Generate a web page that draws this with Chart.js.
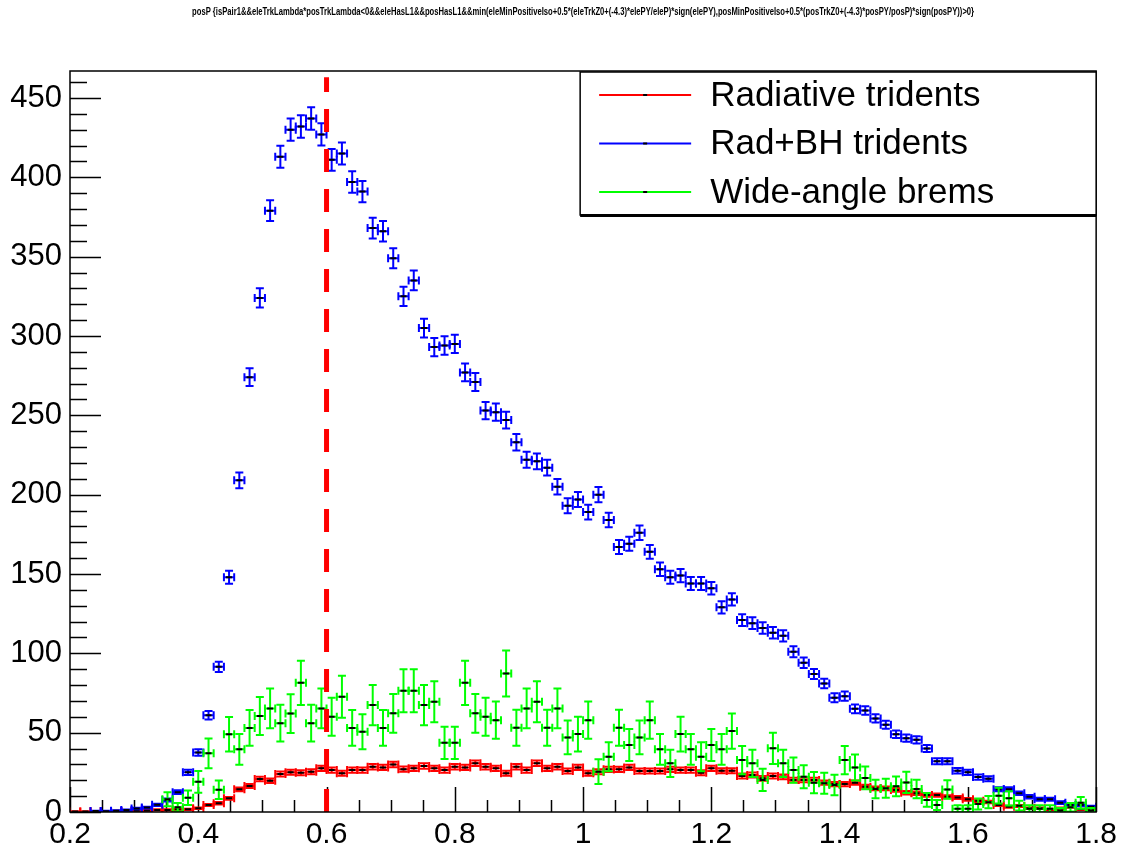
<!DOCTYPE html>
<html>
<head>
<meta charset="utf-8">
<title>posP</title>
<script src="https://cdn.jsdelivr.net/npm/chart.js@4.4.0/dist/chart.umd.min.js"></script>
<style>
  html, body { margin: 0; padding: 0; background: #fff; }
  #wrap { width: 1122px; height: 849px; }
</style>
</head>
<body>
<div id="wrap"><canvas id="posPChart" width="1122" height="849"></canvas></div>
<script>
const titleText = 'posP {isPair1&&eleTrkLambda*posTrkLambda<0&&eleHasL1&&posHasL1&&min(eleMinPositiveIso+0.5*(eleTrkZ0+(-4.3)*elePY/eleP)*sign(elePY),posMinPositiveIso+0.5*(posTrkZ0+(-4.3)*posPY/posP)*sign(posPY))>0}';

// 100 bins of width 0.016 between 0.2 and 1.8, centres
const binCenters = [
  0.208, 0.224, 0.24, 0.256, 0.272, 0.288, 0.304, 0.32, 0.336, 0.352,
  0.368, 0.384, 0.4, 0.416, 0.432, 0.448, 0.464, 0.48, 0.496, 0.512,
  0.528, 0.544, 0.56, 0.576, 0.592, 0.608, 0.624, 0.64, 0.656, 0.672,
  0.688, 0.704, 0.72, 0.736, 0.752, 0.768, 0.784, 0.8, 0.816, 0.832,
  0.848, 0.864, 0.88, 0.896, 0.912, 0.928, 0.944, 0.96, 0.976, 0.992,
  1.008, 1.024, 1.04, 1.056, 1.072, 1.088, 1.104, 1.12, 1.136, 1.152,
  1.168, 1.184, 1.2, 1.216, 1.232, 1.248, 1.264, 1.28, 1.296, 1.312,
  1.328, 1.344, 1.36, 1.376, 1.392, 1.408, 1.424, 1.44, 1.456, 1.472,
  1.488, 1.504, 1.52, 1.536, 1.552, 1.568, 1.584, 1.6, 1.616, 1.632,
  1.648, 1.664, 1.68, 1.696, 1.712, 1.728, 1.744, 1.76, 1.776, 1.792
];
const binHalfWidth = 0.008;

// Radiative tridents (red)
const radValues = [
  0.3, 0.3, 0.4, 0.4, 0.5, 0.6, 0.8, 1.0, 1.3, 1.3,
  1.7, 1.7, 2.3, 4.4, 5.5, 8.6, 14.3, 16.4, 20.8, 19.7,
  23.9, 25, 24.7, 25.4, 27.5, 26.4, 24.4, 26.4, 26.4, 28.5,
  28.1, 30, 27, 27.5, 29, 27.5, 26.4, 28.5, 28.1, 30.7,
  28.5, 27.5, 24.4, 28.5, 26.4, 30.7, 27.5, 28.5, 25.8, 28.1,
  24.4, 25.4, 26.9, 26.9, 28.1, 25.8, 25.8, 25.8, 26.9, 26.4,
  26.4, 24.7, 27.5, 26, 26, 22.7, 23.3, 21.2, 22.7, 22.2,
  20.2, 20.2, 20.2, 18.5, 17.6, 17.6, 18.5, 15.9, 14.9, 14.9,
  13.9, 12.2, 11.8, 10.7, 10.7, 9.6, 9.2, 8, 7.1, 6.3,
  4.4, 3.3, 3.8, 2.3, 2.3, 1.7, 2.3, 3.3, 1.7, 1.7
];
const radErrors = [
  0.17, 0.17, 0.2, 0.2, 0.22, 0.25, 0.28, 0.32, 0.36, 0.36,
  0.41, 0.41, 0.48, 0.66, 0.74, 0.93, 1.2, 1.28, 1.44, 1.4,
  1.55, 1.58, 1.57, 1.59, 1.66, 1.62, 1.56, 1.62, 1.62, 1.69,
  1.68, 1.73, 1.64, 1.66, 1.7, 1.66, 1.62, 1.69, 1.68, 1.75,
  1.69, 1.66, 1.56, 1.69, 1.62, 1.75, 1.66, 1.69, 1.61, 1.68,
  1.56, 1.59, 1.64, 1.64, 1.68, 1.61, 1.61, 1.61, 1.64, 1.62,
  1.62, 1.57, 1.66, 1.61, 1.61, 1.51, 1.53, 1.46, 1.51, 1.49,
  1.42, 1.42, 1.42, 1.36, 1.33, 1.33, 1.36, 1.26, 1.22, 1.22,
  1.18, 1.1, 1.09, 1.03, 1.03, 0.98, 0.96, 0.89, 0.84, 0.79,
  0.66, 0.57, 0.62, 0.48, 0.48, 0.41, 0.48, 0.57, 0.41, 0.41
];

// Rad+BH tridents (blue)
const radBhValues = [
  null, null, 0.6, 0.5, 0.8, 1.2, 2.2, 2.8, 4.5, 7.5,
  12.5, 25, 37.5, 61, 91.5, 148, 209, 274, 324, 379,
  413, 430, 432, 437, 427, 411, 415, 397, 391, 368,
  366, 349, 325, 335, 305, 293, 294, 295, 277, 271,
  253, 252, 247, 233, 222, 221, 217, 205, 193, 197,
  189, 200, 184, 167, 169, 176, 164, 153, 148, 149,
  144, 144, 141, 129, 134, 121, 119, 116, 113, 111,
  101, 94, 87, 81, 72, 73, 65, 64, 59, 55,
  49, 46.5, 45.5, 40, 32, 32, 26, 25, 22, 21,
  14.3, 14.3, 11.8, 9.6, 8, 8, 5.9, 4.4, 4.4, 3.3
];
const radBhErrors = [
  null, null, 0.26, 0.24, 0.3, 0.37, 0.5, 0.57, 0.72, 0.93,
  1.2, 1.7, 2.1, 2.65, 3.2, 4.1, 4.9, 5.6, 6.1, 6.6,
  6.9, 7.0, 7.05, 7.1, 7.0, 6.9, 6.9, 6.75, 6.7, 6.5,
  6.5, 6.3, 6.1, 6.2, 5.9, 5.8, 5.8, 5.8, 5.6, 5.6,
  5.4, 5.4, 5.3, 5.2, 5.05, 5.0, 5.0, 4.85, 4.7, 4.75,
  4.65, 4.8, 4.6, 4.4, 4.4, 4.5, 4.35, 4.2, 4.1, 4.15,
  4.05, 4.05, 4.0, 3.85, 3.9, 3.7, 3.7, 3.65, 3.6, 3.55,
  3.4, 3.3, 3.15, 3.05, 2.9, 2.9, 2.75, 2.7, 2.6, 2.5,
  2.35, 2.3, 2.3, 2.15, 1.9, 1.9, 1.75, 1.7, 1.6, 1.55,
  1.3, 1.3, 1.15, 1.05, 0.96, 0.96, 0.82, 0.71, 0.71, 0.62
];

// Wide-angle brems (green)
const wabValues = [
  null, null, null, null, null, null, null, null, null, 8,
  3, 9, 19, 37, 14, 49, 39.5, 53, 60.5, 65.3,
  56, 62, 81.4, 56, 65.3, 60, 72.6, 53, 50.6, 67.4,
  53, 62.2, 76.4, 76.4, 67.4, 69.5, 43.6, 43.6, 81.4, 62.2,
  60, 57.9, 87.3, 53.1, 65.3, 69.5, 53.1, 65.3, 47, 49.1,
  57.9, 25.4, 34.8, 53.1, 42.2, 47, 57.9, 39.5, 30.7, 49.1,
  39.5, 34.8, 42.2, 39.5, 51, 32.7, 30.7, 20.2, 40.1, 30.7,
  26.4, 22.2, 18.5, 18.1, 17, 32.7, 28, 21.5, 14.5, 15,
  16.2, 18.6, 14.5, 7.6, 4.4, 14.2, 2, 2, 5, 6.2,
  10.3, 8.6, 4, 2, 2, 2, 1, 3, 5.8, 1
];
const wabErrors = [
  null, null, null, null, null, null, null, null, null, 4.4,
  2.7, 4.6, 6.8, 9.4, 5.8, 10.8, 9.7, 11.3, 12.0, 12.5,
  11.6, 12.2, 14.0, 11.6, 12.5, 12.0, 13.2, 11.3, 11.0, 12.7,
  11.3, 12.2, 13.5, 13.5, 12.7, 12.9, 10.2, 10.2, 14.0, 12.2,
  12.0, 11.8, 14.5, 11.3, 12.5, 12.9, 11.3, 12.5, 10.6, 10.9,
  11.8, 7.8, 9.1, 11.3, 10.1, 10.6, 11.8, 9.7, 8.6, 10.9,
  9.7, 9.1, 10.1, 9.7, 11.1, 8.9, 8.6, 7.0, 9.8, 8.6,
  8.0, 7.3, 6.7, 6.6, 6.4, 8.9, 8.2, 7.2, 5.9, 6.0,
  6.2, 6.7, 5.9, 4.3, 3.2, 5.8, 2.2, 2.2, 3.5, 3.9,
  5.0, 4.5, 3.1, 2.2, 2.2, 2.2, 1.5, 2.7, 3.7, 1.5
];

const xTickValues = [0.2, 0.4, 0.6, 0.8, 1.0, 1.2, 1.4, 1.6, 1.8];
const yTickValues = [0, 50, 100, 150, 200, 250, 300, 350, 400, 450];
const xMinorStep = 0.05;
const yMinorStep = 10;
const cutValue = 0.6;
const cutTop = 463;

const FONT = "'Liberation Sans', Arial, Helvetica, sans-serif";

function toPoints(values) {
    return binCenters.map((x, i) => ({ x: x, y: values[i] }));
}

// ROOT-like inner ticks
const axisTicks = {
    id: 'axisTicks',
    beforeDatasetsDraw(chart) {
        const { ctx, chartArea: a, scales: { x, y } } = chart;
        ctx.save();
        ctx.strokeStyle = '#000';
        ctx.lineWidth = 1.5;
        ctx.beginPath();
        for (let k = 0; k * yMinorStep <= y.max; k++) {
            const v = k * yMinorStep;
            const py = Math.round(y.getPixelForValue(v)) + 0.5;
            const len = yTickValues.includes(v) ? 31 : 17;
            ctx.moveTo(a.left, py);
            ctx.lineTo(a.left + len, py);
        }
        for (let k = 0; x.min + k * xMinorStep <= x.max + 1e-9; k++) {
            const v = x.min + k * xMinorStep;
            const px = Math.round(x.getPixelForValue(v)) + 0.5;
            const len = (k % 4 === 0) ? 25 : 12;
            ctx.moveTo(px, a.bottom);
            ctx.lineTo(px, a.bottom - len);
        }
        ctx.stroke();
        ctx.restore();
    }
};

// error crosses with end caps and black centre marker
const errorBars = {
    id: 'errorBars',
    afterDatasetsDraw(chart) {
        const { ctx, chartArea: a, scales: { x, y } } = chart;
        ctx.save();
        ctx.beginPath();
        ctx.rect(a.left, a.top, a.right - a.left, a.bottom - a.top);
        ctx.clip();
        chart.data.datasets.forEach(ds => {
            ds.data.forEach((p, i) => {
                if (p.y === null) return;
                const err = ds.errors[i];
                const px = x.getPixelForValue(p.x);
                const xl = x.getPixelForValue(p.x - binHalfWidth);
                const xr = x.getPixelForValue(p.x + binHalfWidth);
                const py = y.getPixelForValue(p.y);
                const yt = y.getPixelForValue(p.y + err);
                const yb = y.getPixelForValue(p.y - err);
                ctx.strokeStyle = ds.borderColor;
                ctx.lineWidth = 2;
                ctx.beginPath();
                ctx.moveTo(xl, py); ctx.lineTo(xr, py);
                ctx.moveTo(xl, py - 4); ctx.lineTo(xl, py + 4);
                ctx.moveTo(xr, py - 4); ctx.lineTo(xr, py + 4);
                ctx.moveTo(px, yt); ctx.lineTo(px, yb);
                ctx.moveTo(px - 4, yt); ctx.lineTo(px + 4, yt);
                ctx.moveTo(px - 4, yb); ctx.lineTo(px + 4, yb);
                ctx.stroke();
                ctx.strokeStyle = '#000';
                ctx.beginPath();
                ctx.moveTo(px - 3, py); ctx.lineTo(px + 3, py);
                ctx.stroke();
            });
        });
        ctx.restore();
    }
};

// frame, cut line, title and legend box
const decorations = {
    id: 'decorations',
    afterDraw(chart) {
        const { ctx, chartArea: a, scales: { x, y } } = chart;
        ctx.save();

        // cut line
        const cx = x.getPixelForValue(cutValue);
        ctx.strokeStyle = '#ff0000';
        ctx.lineWidth = 5;
        ctx.setLineDash([23, 17]);
        ctx.beginPath();
        ctx.moveTo(cx, y.getPixelForValue(0));
        ctx.lineTo(cx, y.getPixelForValue(cutTop));
        ctx.stroke();
        ctx.setLineDash([]);

        // frame
        ctx.strokeStyle = '#000';
        ctx.lineWidth = 1.5;
        ctx.strokeRect(a.left, a.top, a.right - a.left, a.bottom - a.top);

        // title
        ctx.fillStyle = '#000';
        ctx.font = 'bold 10px ' + FONT;
        ctx.textAlign = 'center';
        ctx.textBaseline = 'middle';
        ctx.fillText(titleText, (a.left + a.right) / 2, 12, 782);

        // legend
        const lw = 516, lh = 143;
        const lx = a.right - lw, ly = a.top + 1;
        ctx.fillStyle = '#fff';
        ctx.fillRect(lx, ly, lw, lh);
        ctx.strokeStyle = '#000';
        ctx.lineWidth = 1.5;
        ctx.strokeRect(lx, ly, lw, lh);
        ctx.lineWidth = 3;
        ctx.beginPath();
        ctx.moveTo(lx, ly + lh + 0.5);
        ctx.lineTo(lx + lw, ly + lh + 0.5);
        ctx.stroke();

        ctx.font = '35px ' + FONT;
        ctx.textAlign = 'left';
        ctx.textBaseline = 'middle';
        chart.data.datasets.forEach((ds, i) => {
            const ry = ly + 23 + i * 48.5;
            ctx.strokeStyle = ds.borderColor;
            ctx.lineWidth = 2;
            ctx.beginPath();
            ctx.moveTo(lx + 19, ry);
            ctx.lineTo(lx + 111, ry);
            ctx.stroke();
            ctx.strokeStyle = '#000';
            ctx.beginPath();
            ctx.moveTo(lx + 63, ry);
            ctx.lineTo(lx + 67, ry);
            ctx.stroke();
            ctx.fillStyle = '#000';
            ctx.fillText(ds.label, lx + 130, ry + 1);
        });
        ctx.restore();
    }
};

new Chart(document.getElementById('posPChart').getContext('2d'), {
    type: 'scatter',
    data: {
        datasets: [
            { label: 'Radiative tridents', data: toPoints(radValues), errors: radErrors, borderColor: '#ff0000', backgroundColor: '#ff0000' },
            { label: 'Rad+BH tridents', data: toPoints(radBhValues), errors: radBhErrors, borderColor: '#0000ff', backgroundColor: '#0000ff' },
            { label: 'Wide-angle brems', data: toPoints(wabValues), errors: wabErrors, borderColor: '#00ff00', backgroundColor: '#00ff00' }
        ]
    },
    options: {
        responsive: false,
        animation: false,
        events: [],
        layout: { padding: { top: 71, right: 23, left: 0, bottom: 0 } },
        elements: { point: { radius: 0, hoverRadius: 0 } },
        plugins: {
            legend: { display: false },
            tooltip: { enabled: false },
            title: { display: false }
        },
        scales: {
            x: {
                type: 'linear',
                min: 0.2,
                max: 1.8,
                afterBuildTicks: s => { s.ticks = xTickValues.map(v => ({ value: v })); },
                afterFit: s => { s.height = 37; },
                grid: { display: false, drawTicks: false },
                border: { display: false },
                ticks: {
                    padding: 5,
                    color: '#000',
                    autoSkip: false,
                    maxRotation: 0,
                    font: { family: FONT, size: 30 },
                    callback: v => String(Number(v.toFixed(1)))
                }
            },
            y: {
                type: 'linear',
                min: 0,
                max: 467,
                afterBuildTicks: s => { s.ticks = yTickValues.map(v => ({ value: v })); },
                afterFit: s => { s.width = 70; },
                grid: { display: false, drawTicks: false },
                border: { display: false },
                ticks: {
                    padding: 8,
                    color: '#000',
                    autoSkip: false,
                    font: { family: FONT, size: 31 },
                    callback: v => String(v)
                }
            }
        }
    },
    plugins: [axisTicks, errorBars, decorations]
});
</script>
</body>
</html>
